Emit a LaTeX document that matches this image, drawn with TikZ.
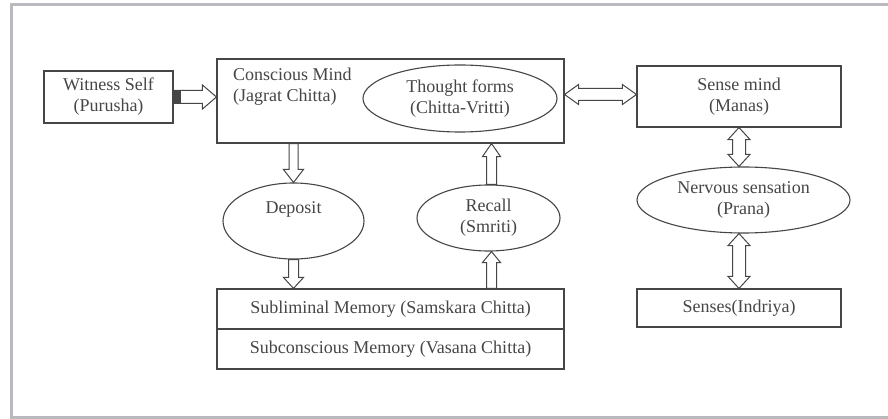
\documentclass[tikz,border=0pt]{standalone}
\usepackage{fontspec}
\setmainfont{Liberation Serif}
\usetikzlibrary{shapes.geometric,calc}
\definecolor{ink}{RGB}{70,70,70}
\definecolor{frame}{RGB}{185,185,190}
\tikzset{
  box/.style={draw=ink, line width=1.1pt, rectangle, inner sep=0pt, align=center, text=ink},
  oval/.style={draw=ink, line width=1.1pt, ellipse, inner sep=0pt, align=center, text=ink},
  arrowline/.style={draw=ink, line width=1.0pt, fill=white, line join=miter},
}
% single block arrow: #2 -> #3, shaft half width #4, head half width #5, head length #6
\newcommand\blkarrow[6][]{%
  \draw[arrowline,#1] let \p1=(#2), \p2=(#3),
    \n1={atan2(\y2-\y1,\x2-\x1)}, \n2={veclen(\x2-\x1,\y2-\y1)} in
    [shift={(\p1)}, rotate=\n1]
    (0pt,-#4) -- (\n2-#6,-#4) -- (\n2-#6,-#5) -- (\n2,0pt) -- (\n2-#6,#5)
    -- (\n2-#6,#4) -- (0pt,#4) -- cycle;}
% double block arrow
\newcommand\dblarrow[6][]{%
  \draw[arrowline,#1] let \p1=(#2), \p2=(#3),
    \n1={atan2(\y2-\y1,\x2-\x1)}, \n2={veclen(\x2-\x1,\y2-\y1)} in
    [shift={(\p1)}, rotate=\n1]
    (0pt,0pt) -- (#6,-#5) -- (#6,-#4) -- (\n2-#6,-#4) -- (\n2-#6,-#5) -- (\n2,0pt)
    -- (\n2-#6,#5) -- (\n2-#6,#4) -- (#6,#4) -- (#6,#5) -- cycle;}
\begin{document}
\begin{tikzpicture}[x=1pt,y=-1pt, font=\fontsize{18}{21}\selectfont]
\useasboundingbox (0,0) rectangle (888,419);
\fill[white] (0,0) rectangle (888,419);
% outer frame (right side outside the picture)
\draw[frame, line width=3pt] (890,5) -- (11,5) -- (11,417) -- (890,417);

% nodes
\node[box, minimum width=129pt, minimum height=52pt] (ws) at (108.5,97) {Witness Self\\(Purusha)};
\node[box, minimum width=347pt, minimum height=84pt] (cm) at (390.5,101) {};
\node[anchor=west, align=left, text=ink, inner sep=0pt] (cml) at (233,86.5) {Conscious Mind\\(Jagrat Chitta)};
\node[oval, minimum width=194pt, minimum height=67pt] (tf) at (460,98.5) {Thought forms\\(Chitta-Vritti)};
\node[box, minimum width=204pt, minimum height=61pt] (sm) at (739,96.5) {Sense mind\\(Manas)};
\node[oval, minimum width=213pt, minimum height=66pt] (nv) at (743.5,200) {Nervous sensation\\(Prana)};
\node[box, minimum width=204pt, minimum height=38pt] (se) at (739,308) {Senses(Indriya)};
\node[oval, minimum width=141pt, minimum height=76pt] (dp) at (293.5,221) {Deposit\\\strut};
\node[oval, minimum width=143pt, minimum height=66pt] (rc) at (488.5,218) {Recall\\(Smriti)};
\node[box, minimum width=347pt, minimum height=40pt] (m1) at (390.5,309) {Subliminal Memory (Samskara Chitta)};
\node[box, minimum width=347pt, minimum height=40pt] (m2) at (390.5,349) {Subconscious Memory (Vasana Chitta)};

% connectors
\blkarrow{ws.east}{ws.east -| cm.west}{6.5pt}{12pt}{14pt}
\fill[ink] ([yshift=-6.5pt]ws.east) rectangle ([xshift=7pt,yshift=6.5pt]ws.east);
\dblarrow{[yshift=2pt]sm.west -| cm.east}{[yshift=2pt]sm.west}{6pt}{10pt}{14pt}
\dblarrow{sm.south}{sm.south |- nv.north}{6.5pt}{11pt}{12pt}
\dblarrow{nv.south -| se.north}{se.north}{6.5pt}{11pt}{12pt}
\blkarrow{dp.north |- cm.south}{dp.north}{4.5pt}{10pt}{13pt}
\blkarrow{dp.south}{dp.south |- m1.north}{5pt}{10pt}{11pt}
\blkarrow{[xshift=3pt]rc.south |- m1.north}{[xshift=3pt]rc.south}{5pt}{9pt}{11pt}
\blkarrow{[xshift=3pt]rc.north}{[xshift=3pt]rc.north |- cm.south}{5pt}{9pt}{13pt}
\end{tikzpicture}
\end{document}
